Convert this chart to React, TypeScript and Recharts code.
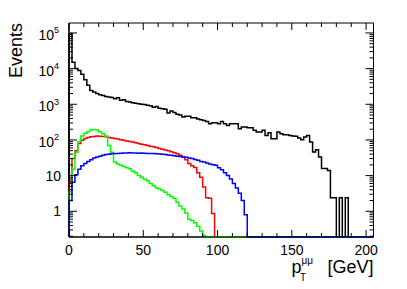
import React from 'react';
import { LineChart, Line, XAxis, YAxis, ReferenceArea } from 'recharts';

// histogram binning (GeV)
const BIN_WIDTH = 2;
const N_BINS = 102;
const X_MAX = 205;
const Y_MIN = 0.19;
const Y_MAX = 1.9e5;

// bin contents (bins of 2 GeV starting at 0, missing bins are empty)
const blackEvents = [
  95000, 15000, 10000, 8900, 6900, 4900, 3400, 2450, 2200, 2000,
  1850, 1750, 1660, 1600, 1550, 1440, 1520, 1300, 1350, 1200,
  1150, 1100, 1070, 1040, 1000, 980, 940, 915, 830, 860,
  770, 750, 730, 570, 650, 590, 525, 500, 440, 460,
  460, 420, 420, 385, 370, 350, 330, 285, 305, 305,
  285, 330, 285, 255, 285, 285, 285, 207, 230, 230,
  220, 220, 186, 167, 167, 186, 134, 160, 108, 108,
  167, 150, 140, 140, 134, 130, 126, 113, 101, 120,
  134, 87, 46, 53, 33, 15.7, 15.7, 14, 2.4, 2.4,
  0, 2.4, 0, 2.4,
];
const redEvents = [
  6.6, 30, 50, 80, 98, 110, 118, 122, 125, 128,
  126, 124, 122, 118, 114, 110, 106, 102, 98, 94,
  90, 87, 83, 80, 76, 73, 70, 67, 64, 61,
  58, 55, 52, 50, 47, 44, 41, 37, 33, 28,
  22, 19, 17, 12, 9, 4.8, 2.4, 2.3, 0.86,
];
const greenEvents = [
  3.5, 15, 45, 90, 130, 155, 170, 190, 195, 190,
  170, 150, 130, 70, 45, 24, 21, 19.5, 18, 16.5,
  15.5, 13.5, 12, 10, 9, 8, 7.2, 6, 5.2, 4.6,
  4.2, 3.8, 3.4, 2.9, 2.6, 2.3, 1.8, 1.4, 1.15, 0.9,
  0.6, 0.55, 0.48, 0.38, 0.28, 0.21,
];
const blueEvents = [
  2, 6.5, 10.5, 15, 19, 22, 25, 28, 31, 33,
  35, 37, 39, 40, 41, 41.5, 42, 42.5, 43, 43,
  43.5, 43, 43, 42.5, 43, 42.5, 42, 41.5, 41.5, 41,
  40.5, 40, 39, 38, 37, 36, 35, 34.5, 33.5, 32.5,
  31, 30, 28.5, 27, 25, 24, 22.5, 21, 20, 19.5,
  16.5, 14.5, 12, 10, 8, 6, 4.5, 3.2, 2.0, 0.8,
];

const xTicks = [0, 10, 20, 30, 40, 50, 60, 70, 80, 90, 100, 110, 120, 130, 140, 150, 160, 170, 180, 190, 200];
const xLabelEvery = 50;
const yDecades = [-1, 0, 1, 2, 3, 4, 5];

const series = [
  { key: 'black', values: blackEvents, color: '#000000' },
  { key: 'red', values: redEvents, color: '#ff0000' },
  { key: 'green', values: greenEvents, color: '#00ff00' },
  { key: 'blue', values: blueEvents, color: '#0000ff' },
];

const W = 407;
const H = 289;
const MARGIN = { top: 23, right: 33.5, left: 0, bottom: 0 };
const Y_AXIS_W = 69;
const X_AXIS_H = 52;
const PLOT_W = W - MARGIN.right - MARGIN.left - Y_AXIS_W;
const PLOT_H = H - MARGIN.top - MARGIN.bottom - X_AXIS_H;
const FONT = '"Liberation Sans", Arial, Helvetica, sans-serif';

// empty bins sit on the frame bottom like ROOT draws them
const content = (arr: number[], i: number) => {
  const v = arr[i] ?? 0;
  return v > 0 ? v : Y_MIN;
};

const buildRows = () => {
  const rows: any[] = [];
  const first: any = { x: 0 };
  series.forEach((s) => (first[s.key] = Y_MIN));
  rows.push(first);
  for (let i = 0; i < N_BINS; i++) {
    const r: any = { x: i * BIN_WIDTH };
    series.forEach((s) => (r[s.key] = content(s.values, i)));
    rows.push(r);
  }
  const last: any = { x: X_MAX };
  series.forEach((s) => (last[s.key] = content(s.values, N_BINS - 1)));
  rows.push(last);
  return rows;
};

const yTicks: number[] = [];
yDecades.forEach((d) => {
  for (let m = 1; m <= 9; m++) {
    const v = m * Math.pow(10, d);
    if (v >= Y_MIN && v <= Y_MAX) yTicks.push(v);
  }
});

function XTick(props: any) {
  const { x, y, payload } = props;
  const v = payload.value;
  const major = v % xLabelEvery === 0;
  const len = major ? 7 : 4;
  return (
    <g>
      <line x1={x} y1={y} x2={x} y2={y - len} stroke="#000" />
      <line x1={x} y1={y - PLOT_H} x2={x} y2={y - PLOT_H + len} stroke="#000" />
      {major && (
        <text x={x} y={y + 18} textAnchor="middle" fontSize={14} fontFamily={FONT} fill="#000">
          {v}
        </text>
      )}
    </g>
  );
}

function YTick(props: any) {
  const { x, y, payload } = props;
  const v = payload.value;
  const lg = Math.log10(v);
  const major = Math.abs(lg - Math.round(lg)) < 1e-6;
  const len = major ? 8 : 4;
  const exp = Math.round(lg);
  let label = null;
  if (major && exp >= 0) {
    label =
      exp <= 1 ? (
        <text x={x - 8} y={y + 5} textAnchor="end" fontSize={14} fontFamily={FONT} fill="#000">
          {exp === 0 ? '1' : '10'}
        </text>
      ) : (
        <text x={x - 10} y={y + 7} textAnchor="end" fontSize={14} fontFamily={FONT} fill="#000">
          <tspan>10</tspan>
          <tspan dy={-6.5} fontSize={9}>{exp}</tspan>
        </text>
      );
  }
  return (
    <g>
      <line x1={x} y1={y} x2={x + len} y2={y} stroke="#000" />
      <line x1={x + PLOT_W} y1={y} x2={x + PLOT_W - len} y2={y} stroke="#000" />
      {label}
    </g>
  );
}

export default function App() {
  const rows = buildRows();
  return (
    <div style={{ position: 'absolute', left: 0, top: 0, width: W, height: H, background: '#fff' }}>
      <LineChart width={W} height={H} data={rows} margin={MARGIN}>
        <ReferenceArea x1={0} x2={X_MAX} y1={Y_MIN} y2={Y_MAX} fill="none" stroke="#000" strokeWidth={1} />
        <XAxis
          type="number"
          dataKey="x"
          domain={[0, X_MAX]}
          ticks={xTicks}
          interval={0}
          height={X_AXIS_H}
          tickSize={0}
          tickMargin={0}
          tickLine={false}
          axisLine={{ stroke: '#000' }}
          tick={<XTick />}
        />
        <YAxis
          type="number"
          scale="log"
          domain={[Y_MIN, Y_MAX]}
          ticks={yTicks}
          interval={0}
          width={Y_AXIS_W}
          tickSize={0}
          tickMargin={0}
          tickLine={false}
          axisLine={{ stroke: '#000' }}
          tick={<YTick />}
        />
        {series.map((s) => (
          <Line
            key={s.key}
            type="stepAfter"
            dataKey={s.key}
            stroke={s.color}
            strokeWidth={1.5}
            dot={false}
            activeDot={false}
            isAnimationActive={false}
          />
        ))}
      </LineChart>
      <svg
        width={W}
        height={H}
        style={{ position: 'absolute', left: 0, top: 0, pointerEvents: 'none' }}
        fontFamily={FONT}
      >
        <text x={21.5} y={23} transform="rotate(-90 21.5 23)" textAnchor="end" fontSize={18} fill="#000">
          Events
        </text>
        <text x={291.5} y={273} fontSize={18} fill="#000">
          p
          <tspan dy={-9} fontSize={10}>μμ</tspan>
          <tspan x={300} dy={17} fontSize={10}>T</tspan>
        </text>
        <text x={373.5} y={273} textAnchor="end" fontSize={18} fill="#000">[GeV]</text>
      </svg>
    </div>
  );
}
